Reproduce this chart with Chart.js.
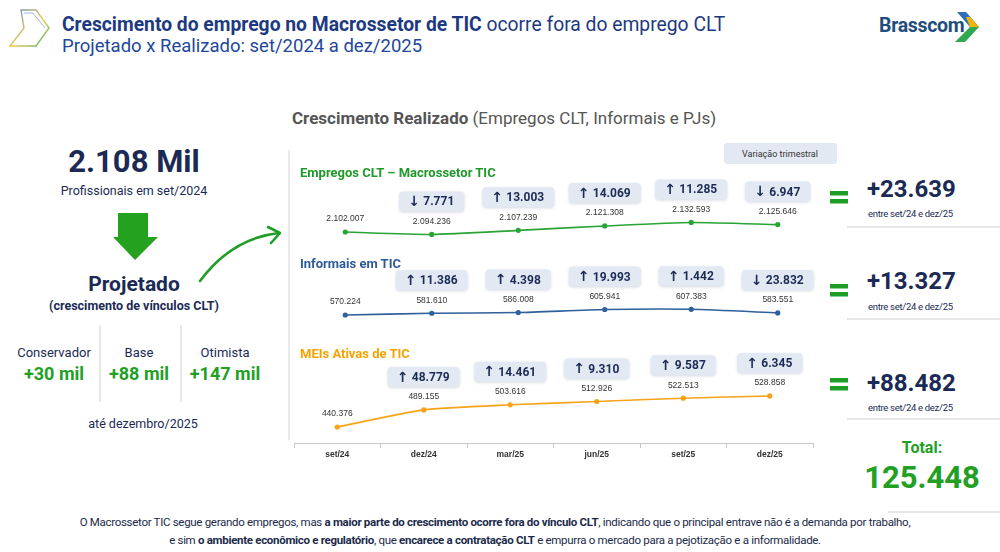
<!DOCTYPE html>
<html lang="pt-BR">
<head>
<meta charset="utf-8">
<script src="https://cdn.jsdelivr.net/npm/chart.js@4.4.1/dist/chart.umd.min.js"></script>
<style>
  html, body { margin: 0; padding: 0; background: #fff; }
  #pagina { position: relative; width: 1000px; height: 552px; overflow: hidden; background: #fff; font-family: Roboto, "Liberation Sans", sans-serif; }
  #formas { position: absolute; left: 0; top: 0; z-index: 0; }
  canvas { position: absolute; z-index: 1; }
  .t { position: absolute; white-space: nowrap; z-index: 2; }
  .c { transform: translate(-50%, -50%); text-align: center; }
  .l { transform: translateY(-50%); }
  .navy { color: #1b2a55; }
  .verde { color: #21a024; }
</style>
</head>
<body>
<div id="pagina">
  <svg id="formas" width="1000" height="552">
    <defs>
      <linearGradient id="gradChevron" x1="0" y1="0" x2="1" y2="1">
        <stop offset="0" stop-color="#5a8fd0"/>
        <stop offset="0.55" stop-color="#f2c94c"/>
        <stop offset="1" stop-color="#3cb371"/>
      </linearGradient>
    </defs>
    <!-- chevron do cabeçalho -->
    <polygon points="21,10 36,10 49,28 36,46 10,46 24,28" fill="none" stroke="url(#gradChevron)" stroke-width="1.4"/>
    <polyline points="24,13 33,13 45,28" fill="none" stroke="#9ab8dd" stroke-width="1"/>
    <!-- logo -->
    <polygon points="957,12 966,12 979,27 970,27" fill="#2f6db5"/>
    <polygon points="966,17 970,17 979,27 970,27" fill="#f2b705"/>
    <polygon points="970,27 979,27 965,42 955,42" fill="#2fa84f"/>
    <!-- seta para baixo -->
    <polygon points="118,213 148,213 148,237 158,237 135,260 113,237 118,237" fill="#24a11f"/>
    <!-- seta curva -->
    <path d="M200,281 Q232,238 279,233" fill="none" stroke="#1f9e27" stroke-width="2.6" stroke-linecap="round"/>
    <polyline points="268,227 280,233 271,243" fill="none" stroke="#1f9e27" stroke-width="2.6" stroke-linecap="round" stroke-linejoin="round"/>
    <!-- divisórias -->
    <line x1="100" y1="325" x2="100" y2="402" stroke="#cfcfcf" stroke-width="1"/>
    <line x1="181" y1="325" x2="181" y2="402" stroke="#cfcfcf" stroke-width="1"/>
    <line x1="289" y1="150" x2="289" y2="440" stroke="#dcdcdc" stroke-width="1.2"/>
    <!-- caixa variação trimestral -->
    <rect x="724" y="143" width="113" height="21" rx="3" fill="#e3e9f3"/>
    <!-- sinais de igual -->
    <rect x="830" y="191" width="18" height="4.5" fill="#1f9e27"/>
    <rect x="830" y="199" width="18" height="4.5" fill="#1f9e27"/>
    <rect x="830" y="284" width="18" height="4.5" fill="#1f9e27"/>
    <rect x="830" y="292" width="18" height="4.5" fill="#1f9e27"/>
    <rect x="830" y="378" width="18" height="4.5" fill="#1f9e27"/>
    <rect x="830" y="386" width="18" height="4.5" fill="#1f9e27"/>
    <line x1="847" y1="227" x2="1000" y2="227" stroke="#cfcfcf"/>
    <line x1="847" y1="319" x2="1000" y2="319" stroke="#cfcfcf"/>
    <line x1="847" y1="419" x2="1000" y2="419" stroke="#cfcfcf"/>
    <line x1="888" y1="512" x2="1000" y2="512" stroke="#e6e6e6" stroke-width="2"/>
  </svg>

  <!-- cabeçalho -->
  <div class="t l" style="left:62px; top:24px; font-size:19.3px; color:#1d3a80;"><b>Crescimento do emprego no Macrossetor de TIC</b> ocorre fora do emprego CLT</div>
  <div class="t l" style="left:62px; top:46px; font-size:18.5px; color:#21479a;">Projetado x Realizado: set/2024 a dez/2025</div>
  <div class="t l" style="left:879px; top:25px; font-size:19.5px; font-weight:bold; color:#1f4e7e; letter-spacing:-0.3px;">Brasscom</div>

  <!-- painel esquerdo -->
  <div class="t c navy" style="left:134px; top:161px; font-size:31px; font-weight:bold;">2.108 Mil</div>
  <div class="t c navy" style="left:134px; top:190px; font-size:12.5px;">Profissionais em set/2024</div>
  <div class="t c navy" style="left:134px; top:284px; font-size:21px; font-weight:bold;">Projetado</div>
  <div class="t c navy" style="left:134px; top:305px; font-size:12.5px; font-weight:bold;">(crescimento de vínculos CLT)</div>
  <div class="t c navy" style="left:54px; top:352px; font-size:13px;">Conservador</div>
  <div class="t c verde" style="left:54px; top:373px; font-size:18px; font-weight:bold;">+30 mil</div>
  <div class="t c navy" style="left:139px; top:352px; font-size:13px;">Base</div>
  <div class="t c verde" style="left:139px; top:373px; font-size:18px; font-weight:bold;">+88 mil</div>
  <div class="t c navy" style="left:225px; top:352px; font-size:13px;">Otimista</div>
  <div class="t c verde" style="left:225px; top:373px; font-size:18px; font-weight:bold;">+147 mil</div>
  <div class="t c navy" style="left:143px; top:423px; font-size:12.5px;">até dezembro/2025</div>

  <!-- títulos do gráfico -->
  <div class="t l" style="left:292px; top:118px; font-size:17px; color:#555;"><b>Crescimento Realizado</b> (Empregos CLT, Informais e PJs)</div>
  <div class="t c" style="left:780px; top:154px; font-size:9px; color:#333;">Variação trimestral</div>
  <div class="t l" style="left:300px; top:172px; font-size:13px; font-weight:bold; color:#1f9a2a;">Empregos CLT – Macrossetor TIC</div>
  <div class="t l" style="left:300px; top:263px; font-size:13px; font-weight:bold; color:#2d5b96;">Informais em TIC</div>
  <div class="t l" style="left:300px; top:353px; font-size:13px; font-weight:bold; color:#f5a300;">MEIs Ativas de TIC</div>

  <canvas id="graficoClt" width="527" height="80" style="left:298px; top:170px;"></canvas>
  <canvas id="graficoInformais" width="527" height="70" style="left:298px; top:262px;"></canvas>
  <canvas id="graficoMeis" width="527" height="123" style="left:290px; top:340px;"></canvas>

  <!-- totais -->
  <div class="t l navy" id="total0" style="left:867px; top:189px; font-size:24px; font-weight:bold;"></div>
  <div class="t l navy" style="left:868px; top:213px; font-size:9.5px; letter-spacing:-0.3px;">entre set/24 e dez/25</div>
  <div class="t l navy" id="total1" style="left:867px; top:281px; font-size:24px; font-weight:bold;"></div>
  <div class="t l navy" style="left:868px; top:306px; font-size:9.5px; letter-spacing:-0.3px;">entre set/24 e dez/25</div>
  <div class="t l navy" id="total2" style="left:867px; top:383px; font-size:24px; font-weight:bold;"></div>
  <div class="t l navy" style="left:868px; top:407px; font-size:9.5px; letter-spacing:-0.3px;">entre set/24 e dez/25</div>
  <div class="t c verde" style="left:922px; top:447px; font-size:16px; font-weight:bold;">Total:</div>
  <div class="t c verde" id="totalGeral" style="left:922px; top:477px; font-size:31px; font-weight:bold;"></div>

  <!-- rodapé -->
  <div class="t c" style="left:495px; top:522px; font-size:11.5px; color:#1c2a4a; letter-spacing:-0.3px;">O Macrossetor TIC segue gerando empregos, mas <b>a maior parte do crescimento ocorre fora do vínculo CLT</b>, indicando que o principal entrave não é a demanda por trabalho,</div>
  <div class="t c" style="left:495px; top:540px; font-size:11.5px; color:#1c2a4a; letter-spacing:-0.3px;">e sim <b>o ambiente econômico e regulatório</b>, que <b>encarece a contratação CLT</b> e empurra o mercado para a pejotização e a informalidade.</div>
</div>

<script>
// dados
const periodos = ["set/24", "dez/24", "mar/25", "jun/25", "set/25", "dez/25"];

const empregosClt = [2102007, 2094236, 2107239, 2121308, 2132593, 2125646];
const variacaoClt = [null, -7771, 13003, 14069, 11285, -6947];

const informais = [570224, 581610, 586008, 605941, 607383, 583551];
const variacaoInformais = [null, 11386, 4398, 19993, 1442, -23832];

const meis = [440376, 489155, 503616, 512926, 522513, 528858];
const variacaoMeis = [null, 48779, 14461, 9310, 9587, 6345];

const saldos = [23639, 13327, 88482];
const saldoTotal = 125448;

function formatar(n) {
    return String(n).replace(/\B(?=(\d{3})+(?!\d))/g, ".");
}

// rótulos de valor e caixas de variação
const rotulos = {
    id: "rotulos",
    afterDatasetsDraw(chart, args, opts) {
        const ctx = chart.ctx;
        const valores = chart.data.datasets[0].data;
        chart.getDatasetMeta(0).data.forEach((pt, i) => {
            ctx.save();
            ctx.textAlign = "center";
            ctx.textBaseline = "middle";
            ctx.font = '8.5px "Liberation Sans", Arial, sans-serif';
            ctx.fillStyle = "#333";
            ctx.fillText(formatar(valores[i]), pt.x, pt.y - 13);

            const v = opts.variacoes[i];
            if (v !== null) {
                const seta = v >= 0 ? "↑" : "↓";
                const num = formatar(Math.abs(v));
                ctx.font = 'bold 12px Roboto, "Liberation Sans", sans-serif';
                const wNum = ctx.measureText(num).width;
                const w = wNum + 34;
                const h = 20;
                const by = pt.y - 33;
                ctx.shadowColor = "rgba(40, 60, 100, 0.18)";
                ctx.shadowBlur = 3;
                ctx.shadowOffsetY = 1;
                ctx.fillStyle = "#e3e9f3";
                ctx.beginPath();
                ctx.roundRect(pt.x - w / 2, by - h / 2, w, h, 4);
                ctx.fill();
                ctx.shadowColor = "transparent";
                ctx.fillStyle = "#1c2b55";
                ctx.textAlign = "left";
                const x0 = pt.x - (wNum + 14) / 2;
                ctx.font = 'bold 14px "DejaVu Sans", sans-serif';
                ctx.fillText(seta, x0 - 1, by + 1);
                ctx.font = 'bold 12px Roboto, "Liberation Sans", sans-serif';
                ctx.fillText(num, x0 + 14, by + 1);
            }
            ctx.restore();
        });
    }
};

function criarGrafico(id, valores, variacoes, cor, yMin, yMax, padTopo, mostrarEixo) {
    const eixoX = {
        display: mostrarEixo,
        offset: true,
        grid: {
            offset: true,
            drawOnChartArea: false,
            drawTicks: true,
            tickLength: 5,
            color: "#c8c8c8"
        },
        border: { display: true, color: "#c8c8c8" },
        ticks: {
            color: "#333",
            padding: 2,
            font: { family: '"Liberation Sans", Arial, sans-serif', size: 8.5, weight: "bold" }
        }
    };
    if (mostrarEixo) {
        eixoX.afterFit = (escala) => { escala.height = 20; };
    }
    return new Chart(document.getElementById(id), {
        type: "line",
        data: {
            labels: periodos,
            datasets: [{
                data: valores,
                borderColor: cor,
                backgroundColor: cor,
                borderWidth: 1.6,
                pointRadius: 2.6,
                pointBackgroundColor: cor,
                pointBorderWidth: 0,
                tension: 0.2
            }]
        },
        options: {
            responsive: false,
            animation: false,
            layout: { padding: { top: padTopo, bottom: mostrarEixo ? 0 : 10, left: 0, right: 0 } },
            plugins: {
                legend: { display: false },
                tooltip: { enabled: false },
                rotulos: { variacoes: variacoes }
            },
            scales: {
                x: eixoX,
                y: { display: false, min: yMin, max: yMax }
            }
        },
        plugins: [rotulos]
    });
}

criarGrafico("graficoClt", empregosClt, variacaoClt, "#2aa336", 2076407, 2172407, 40, false);
criarGrafico("graficoInformais", informais, variacaoInformais, "#2f5f9c", 524724, 719724, 30, false);
criarGrafico("graficoMeis", meis, variacaoMeis, "#f5a318", 394776, 574326, 40, true);

saldos.forEach((s, i) => {
    document.getElementById("total" + i).textContent = "+" + formatar(s);
});
document.getElementById("totalGeral").textContent = formatar(saldoTotal);
</script>
</body>
</html>
